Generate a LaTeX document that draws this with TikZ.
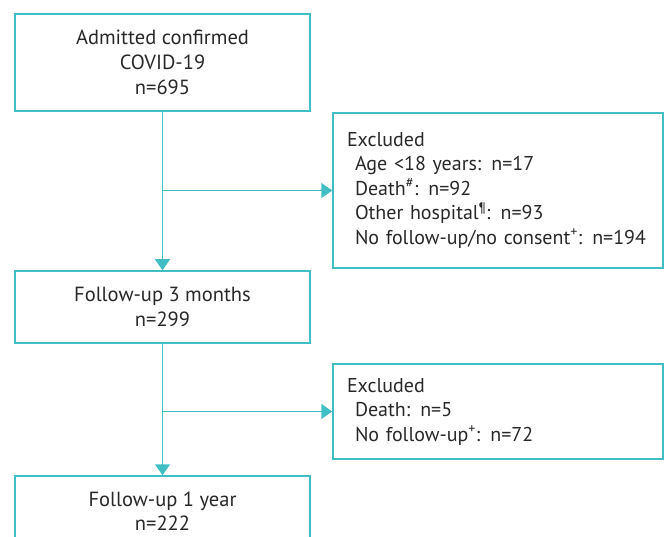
\documentclass[tikz,border=0pt]{standalone}
\usepackage{fontspec}
\setmainfont{PT Sans}
\usetikzlibrary{arrows.meta}
\definecolor{teal}{RGB}{64,190,196}
\definecolor{ink}{RGB}{40,40,40}
\tikzset{box/.style={draw=teal, line width=1.5pt, text=ink, align=center, minimum width=295pt, font=\fontsize{20.5}{25}\selectfont},
  exbox/.style={draw=teal, line width=1.5pt, text=ink, align=left, minimum width=330pt, text width=302pt, font=\fontsize{20}{24.5}\selectfont},
  flow/.style={draw=teal, line width=1.5pt, -{Triangle[width=15pt,length=11pt]}}}
\newcommand{\ind}{\hspace*{8pt}}

\begin{document}
\begin{tikzpicture}[x=1pt, y=-1pt]
  \useasboundingbox (0,0) rectangle (667,537);
  \node[box, minimum height=97pt] (adm) at (162.5,62.5) {Admitted confirmed\\COVID-19\\n=695};
  \node[exbox, minimum height=155pt] (ex1) at (498,190.5) {Excluded\\\ind Age <18 years: n=17\\\ind Death\textsuperscript{\#}: n=92\\\ind Other hospital\textsuperscript{¶}: n=93\\\ind No follow-up/no consent\textsuperscript{+}: n=194};
  \node[box, minimum height=72pt] (fu3) at (162.5,307) {Follow-up 3 months\\n=299};
  \node[exbox, minimum height=95pt] (ex2) at (498,411.5) {Excluded\\\ind Death: n=5\\\ind No follow-up\textsuperscript{+}: n=72};
  \node[box, minimum height=70pt, font=\fontsize{20.5}{24}\selectfont] (fu1) at (162.5,511) {Follow-up 1 year\\n=222};
  \draw[flow] (adm) -- (fu3);
  \draw[flow] (fu3) -- (fu1);
  \draw[flow] (adm.south |- ex1.west) -- (ex1.west);
  \draw[flow] (fu3.south |- ex2.west) -- (ex2.west);
\end{tikzpicture}
\end{document}
